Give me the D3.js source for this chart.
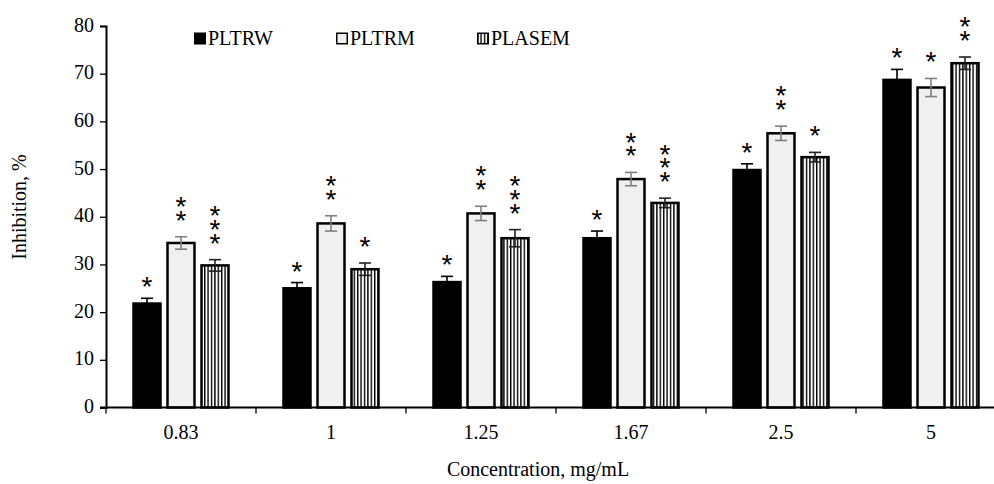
<!DOCTYPE html>
<html>
<head>
<meta charset="utf-8">
<script src="https://cdn.jsdelivr.net/npm/d3@7"></script>
<style>
body { margin:0; background:#fff; }
text { font-family: "Liberation Serif", "Times New Roman", serif; fill:#000; }
.star { font-family: "Liberation Sans", Arial, sans-serif; }
</style>
</head>
<body>
<div class="canvas"></div>
<script>
// values
var categories = ["0.83", "1", "1.25", "1.67", "2.5", "5"];
var seriesNames = ["PLTRW", "PLTRM", "PLASEM"];
var pltrw = [21.8, 25.0, 26.3, 35.5, 49.8, 68.7];
var pltrm = [34.5, 38.6, 40.7, 47.9, 57.5, 67.1];
var plasem = [29.8, 29.0, 35.5, 42.9, 52.5, 72.2];
var pltrwErr = [1.1, 1.2, 1.2, 1.5, 1.3, 2.2];
var pltrmErr = [1.3, 1.6, 1.5, 1.4, 1.5, 1.9];
var plasemErr = [1.2, 1.3, 1.8, 1.0, 1.0, 1.3];
var pltrwStars = [1, 1, 1, 1, 1, 1];
var pltrmStars = [2, 2, 2, 2, 2, 1];
var plasemStars = [3, 1, 3, 3, 1, 2];
var yTicks = [0, 10, 20, 30, 40, 50, 60, 70, 80];

var W = 994, H = 484;
var svg = d3.select('.canvas').append('svg')
    .attr('width', W).attr('height', H);

var defs = svg.append('defs');
var pat = defs.append('pattern')
    .attr('id', 'vstripe')
    .attr('patternUnits', 'userSpaceOnUse')
    .attr('width', 3.4).attr('height', 10);
pat.append('rect').attr('width', 3.4).attr('height', 10).attr('fill', '#fff');
pat.append('rect').attr('x', 0).attr('width', 1.4).attr('height', 10).attr('fill', '#000');

var x0 = d3.scaleBand().domain(categories).range([106, 1006]);
var x1 = d3.scaleBand().domain(seriesNames).range([27.5, 122.5]).paddingInner(0.206);
var y = d3.scaleLinear().domain([0, 80]).range([407.5, 26]);

var fills = {PLTRW: '#000', PLTRM: '#f0f0f0', PLASEM: 'url(#vstripe)'};
var errCol = {PLTRW: '#000', PLTRM: '#808080', PLASEM: '#222'};
var starGap = {PLTRW: 18, PLTRM: 23, PLASEM: 23};

var rows = [];
categories.forEach(function(c, i){
    rows.push({cat:c, s:'PLTRW', v:pltrw[i], e:pltrwErr[i], n:pltrwStars[i]});
    rows.push({cat:c, s:'PLTRM', v:pltrm[i], e:pltrmErr[i], n:pltrmStars[i]});
    rows.push({cat:c, s:'PLASEM', v:plasem[i], e:plasemErr[i], n:plasemStars[i]});
});

// bars
svg.selectAll('rect.bar')
    .data(rows)
    .enter()
    .append('rect')
    .attr('class', 'bar')
    .attr('x', function(d){ return x0(d.cat) + x1(d.s); })
    .attr('y', function(d){ return y(d.v); })
    .attr('width', x1.bandwidth())
    .attr('height', function(d){ return y(0) - y(d.v); })
    .attr('fill', function(d){ return fills[d.s]; })
    .attr('stroke', '#000')
    .attr('stroke-width', 2.5);

// error bars
var eb = svg.selectAll('g.err')
    .data(rows)
    .enter()
    .append('g')
    .attr('class', 'err')
    .attr('stroke', function(d){ return errCol[d.s]; })
    .attr('stroke-width', 1.6);
function cx(d){ return x0(d.cat) + x1(d.s) + x1.bandwidth() / 2; }
eb.append('line')
    .attr('x1', cx).attr('x2', cx)
    .attr('y1', function(d){ return y(d.v - d.e); })
    .attr('y2', function(d){ return y(d.v + d.e); });
eb.append('line')
    .attr('x1', function(d){ return cx(d) - 6; }).attr('x2', function(d){ return cx(d) + 6; })
    .attr('y1', function(d){ return y(d.v + d.e); })
    .attr('y2', function(d){ return y(d.v + d.e); });
eb.append('line')
    .attr('x1', function(d){ return cx(d) - 6; }).attr('x2', function(d){ return cx(d) + 6; })
    .attr('y1', function(d){ return y(d.v - d.e); })
    .attr('y2', function(d){ return y(d.v - d.e); });

// significance stars (stacked)
var stars = [];
rows.forEach(function(d){
    for (var k = 0; k < d.n; k++) stars.push({d:d, k:k});
});
svg.selectAll('text.star')
    .data(stars)
    .enter()
    .append('text')
    .attr('class', 'star')
    .attr('x', function(s){ return cx(s.d); })
    .attr('y', function(s){ return y(s.d.v + s.d.e) - starGap[s.d.s] - s.k * 13.8 + 16; })
    .attr('text-anchor', 'middle')
    .style('font-size', '28px')
    .text('*');

// axes
var yAxis = svg.append('g')
    .attr('transform', 'translate(106,0)')
    .call(d3.axisLeft(y).tickValues(yTicks).tickSize(6).tickPadding(6));
yAxis.select('.domain').attr('stroke', '#000').attr('stroke-width', 2);
yAxis.selectAll('.tick line').attr('stroke', '#000').attr('stroke-width', 1.3);
yAxis.selectAll('.tick text')
    .attr('dy', '0.25em')
    .style('font-size', '20px')
    .style('font-family', '"Liberation Serif", serif');

var xAxis = svg.append('g')
    .attr('transform', 'translate(0,407.5)');
xAxis.append('line')
    .attr('x1', 100).attr('x2', W)
    .attr('stroke', '#000').attr('stroke-width', 2);
xAxis.selectAll('line.tk')
    .data(categories)
    .enter()
    .append('line')
    .attr('class', 'tk')
    .attr('x1', function(c){ return x0(c); })
    .attr('x2', function(c){ return x0(c); })
    .attr('y1', 0).attr('y2', 6)
    .attr('stroke', '#000').attr('stroke-width', 1.3);
xAxis.selectAll('text')
    .data(categories)
    .enter()
    .append('text')
    .attr('x', function(c){ return x0(c) + x0.bandwidth() / 2; })
    .attr('y', 31)
    .attr('text-anchor', 'middle')
    .style('font-size', '20px')
    .text(function(c){ return c; });

svg.append('text')
    .attr('x', 538).attr('y', 476)
    .attr('text-anchor', 'middle')
    .style('font-size', '20px')
    .text('Concentration, mg/mL');

svg.append('text')
    .attr('transform', 'translate(26,207) rotate(-90)')
    .attr('text-anchor', 'middle')
    .style('font-size', '20px')
    .text('Inhibition, %');

// legend
var legX = [194, 336, 477];
var leg = svg.selectAll('g.leg')
    .data(seriesNames)
    .enter()
    .append('g')
    .attr('class', 'leg')
    .attr('transform', function(d, i){ return 'translate(' + legX[i] + ',32.5)'; });
leg.append('rect')
    .attr('x', 0.75).attr('y', 0.75)
    .attr('width', 10.5).attr('height', 10.5)
    .attr('fill', function(d){ return fills[d]; })
    .attr('stroke', '#000').attr('stroke-width', 1.5);
leg.append('text')
    .attr('x', 14).attr('y', 12)
    .style('font-size', '20px')
    .text(function(d){ return d; });
</script>
</body>
</html>
